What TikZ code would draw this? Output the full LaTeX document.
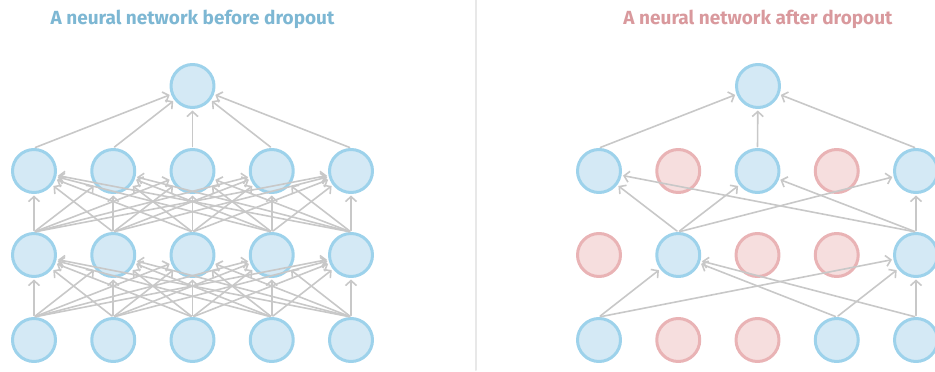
\documentclass[tikz,border=0pt]{standalone}
\usepackage{fontspec}
\setmainfont{Fira Sans}
\usetikzlibrary{arrows.meta}

\definecolor{unitfill}{HTML}{D4E9F5}
\definecolor{unitdraw}{HTML}{9DD2EB}
\definecolor{dropfill}{HTML}{F6DEDE}
\definecolor{dropdraw}{HTML}{E9B3B5}
\definecolor{linkgray}{HTML}{C8C8C8}
\definecolor{dividergray}{HTML}{E8E8E8}
\definecolor{beforetitle}{HTML}{7DB7D3}
\definecolor{aftertitle}{HTML}{D9999D}

\begin{document}
\begin{tikzpicture}[x=1pt, y=-1pt, line cap=round, line join=round,
        unit/.style={circle, draw=unitdraw, fill=unitfill, line width=3pt, minimum size=43pt, inner sep=0pt},
        dropped/.style={unit, draw=dropdraw, fill=dropfill},
        link/.style={draw=linkgray, line width=1.6pt, shorten <=1.5pt, shorten >=1.5pt, -{Straight Barb[length=5pt,width=11pt]}},
        heading/.style={font=\bfseries\fontsize{19}{21}\selectfont}]

        \useasboundingbox (0,0) rectangle (935,372);

        % titles and divider
        \node[heading, text=beforetitle] (btitle) at (192.5,19) {A neural network before dropout};
        \node[heading, text=aftertitle] (atitle) at (758,19) {A neural network after dropout};
        \draw[dividergray, line width=2pt] (476,0) -- (476,370);

        % before dropout
        \foreach \i in {1,...,5} {
            \node[unit] (b0c\i) at ({34+79.25*(\i-1)},340) {};
            \node[unit] (b1c\i) at ({34+79.25*(\i-1)},255) {};
            \node[unit] (b2c\i) at ({34+79.25*(\i-1)},171) {};
        }
        \node[unit] (bout) at (192.5,86) {};

        \foreach \i in {1,...,5} {
            \foreach \j in {1,...,5} {
                \draw[link] (b0c\i.north) -- (b1c\j);
                \draw[link] (b1c\i.north) -- (b2c\j);
            }
            \draw[link] (b2c\i.north) -- (bout);
        }

        % after dropout
        \foreach \s [count=\i] in {unit,dropped,dropped,unit,unit}
            \node[\s] (a0c\i) at ({599+79.25*(\i-1)},340) {};
        \foreach \s [count=\i] in {dropped,unit,dropped,dropped,unit}
            \node[\s] (a1c\i) at ({599+79.25*(\i-1)},255) {};
        \foreach \s [count=\i] in {unit,dropped,unit,dropped,unit}
            \node[\s] (a2c\i) at ({599+79.25*(\i-1)},171) {};
        \node[unit] (aout) at (758,86) {};

        \foreach \i in {1,4,5} \foreach \j in {2,5} \draw[link] (a0c\i.north) -- (a1c\j);
        \foreach \i in {2,5} \foreach \j in {1,3,5} \draw[link] (a1c\i.north) -- (a2c\j);
        \foreach \i in {1,3,5} \draw[link] (a2c\i.north) -- (aout);

    \end{tikzpicture}
\end{document}
